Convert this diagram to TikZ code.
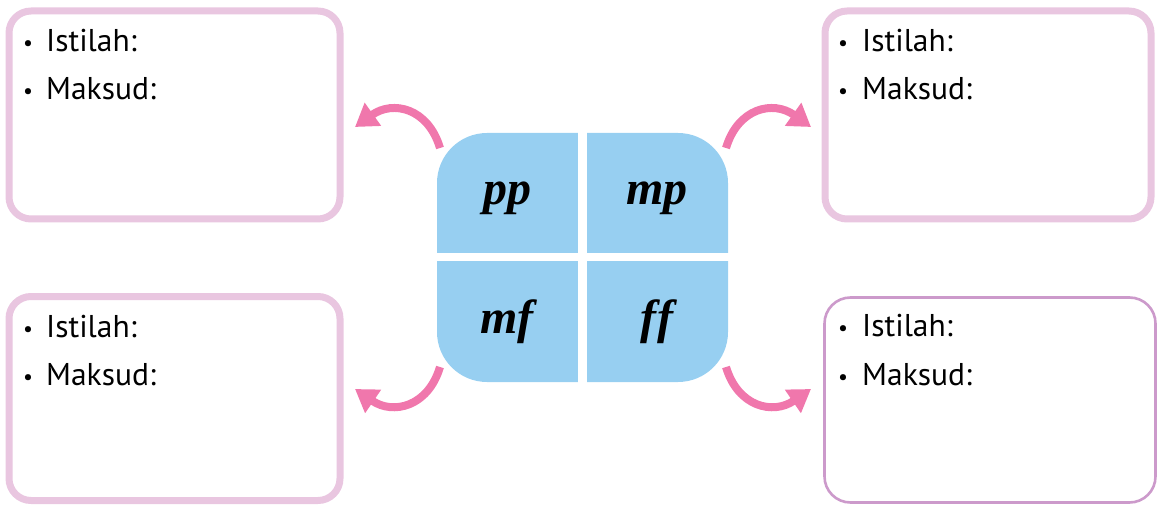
\documentclass[tikz,border=0pt]{standalone}
\usepackage{fontspec}
\setsansfont{PT Sans}
\newfontfamily\dynfont[Ligatures=NoCommon]{Liberation Serif}
\usetikzlibrary{arrows.meta}
\definecolor{boxpink}{HTML}{E9C6E0}
\definecolor{boxpurple}{HTML}{CC9ACB}
\definecolor{quadblue}{HTML}{97CFF1}
\definecolor{arrowpink}{HTML}{F077AC}
\tikzset{
  infobox/.style={draw=boxpink, line width=7pt, rounded corners=22pt, fill=white, inner sep=0pt},
  infoboxthin/.style={draw=boxpurple, line width=2.6pt, rounded corners=26pt, fill=white, inner sep=0pt},
  itemtext/.style={anchor=base west, inner sep=0pt, font=\sffamily\fontsize{31.5}{31.5}\selectfont},
  bul/.style={anchor=base, inner sep=0pt, font=\sffamily\fontsize{22}{22}\selectfont},
  dyn/.style={anchor=base, inner sep=0pt, font=\dynfont\fontsize{48}{48}\selectfont\bfseries\itshape},
  curvearrow/.style={draw=arrowpink, line width=8pt, -{Triangle[width=27pt,length=22pt]}},
}
\begin{document}
\begin{tikzpicture}[x=1pt,y=-1pt]
\useasboundingbox (0,0) rectangle (1159,505);
% boxes
\node[infobox, minimum width=331pt, minimum height=208pt] (tl) at (174.5,115) {};
\node[infobox, minimum width=326pt, minimum height=208pt] (tr) at (988,115) {};
\node[infobox, minimum width=331pt, minimum height=204pt] (bl) at (174.5,398.5) {};
\node[infoboxthin, minimum width=331pt, minimum height=205pt] (br) at (990,400) {};
% texts
\node[bul] (tlb1) at (28,51) {•};
\node[itemtext] (tl1) at (46,52) {Istilah:};
\node[bul] (tlb2) at (28,99) {•};
\node[itemtext] (tl2) at (46,100) {Maksud:};
\node[bul] (trb1) at (843,51) {•};
\node[itemtext] (tr1) at (862,52) {Istilah:};
\node[bul] (trb2) at (843,99) {•};
\node[itemtext] (tr2) at (862,100) {Maksud:};
\node[bul] (blb1) at (28,336) {•};
\node[itemtext] (bl1) at (46,337) {Istilah:};
\node[bul] (blb2) at (28,384) {•};
\node[itemtext] (bl2) at (46,385) {Maksud:};
\node[bul] (brb1) at (843,335) {•};
\node[itemtext] (br1) at (862,336) {Istilah:};
\node[bul] (brb2) at (843,384) {•};
\node[itemtext] (br2) at (862,385) {Maksud:};
% centre
\node[fill=quadblue, rounded corners=50pt, minimum width=291pt, minimum height=249pt, inner sep=0pt] (centre) at (582.5,257.5) {};
\fill[white] (578,130) rectangle (587,386);
\fill[white] (434,253) rectangle (731,261);
\node[dyn] (pp) at (507,205) {pp};
\node[dyn] (mp) at (657,205) {mp};
\node[dyn] (mf) at (507,333) {mf};
\node[dyn] (ff) at (657,333) {f\kern1pt f};
% arrows
\coordinate (a1) at (440,148);
\coordinate (a1e) at (355,127);
\coordinate (a2) at (726,148);
\coordinate (a2e) at (811,127);
\coordinate (a3) at (440,367);
\coordinate (a3e) at (355,389);
\coordinate (a4) at (726,367);
\coordinate (a4e) at (811,389);
\draw[curvearrow] (a1) .. controls (428,108) and (393,100) .. (a1e);
\draw[curvearrow] (a2) .. controls (738,108) and (773,100) .. (a2e);
\draw[curvearrow] (a3) .. controls (428,407) and (393,415) .. (a3e);
\draw[curvearrow] (a4) .. controls (738,407) and (773,415) .. (a4e);
\end{tikzpicture}
\end{document}
